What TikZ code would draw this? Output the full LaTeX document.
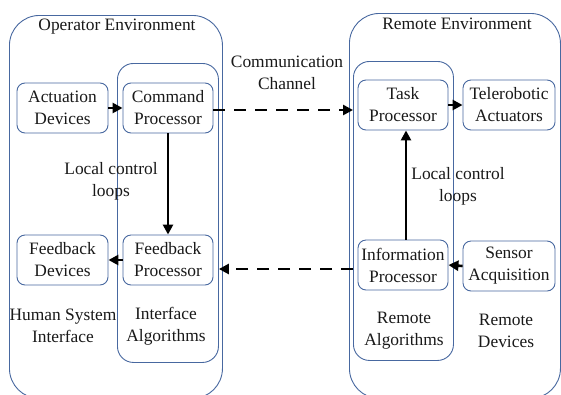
\documentclass[tikz,border=0pt]{standalone}
\usepackage{fontspec}
\setmainfont{Liberation Serif}
\usetikzlibrary{arrows.meta}
\definecolor{frameblue}{RGB}{72,104,160}
\tikzset{
  lbl/.style={font=\fontsize{17.4}{22}\selectfont, align=center, inner sep=0pt, text=black!90},
  devbox/.style={draw=frameblue, line width=0.9pt, rounded corners=8pt,
    minimum width=91pt, minimum height=50pt, inner sep=0pt, lbl},
  container/.style={draw=frameblue, line width=0.9pt, anchor=north west, inner sep=0pt},
  solidarrow/.style={line width=2.6pt, -{Triangle[length=10pt,width=10pt]}},
  dasharrow/.style={line width=2.8pt, dash pattern=on 12pt off 9pt, -{Triangle[length=10pt,width=10pt]}}
}
\begin{document}
\begin{tikzpicture}[x=1pt, y=-1pt]
\useasboundingbox (0,0) rectangle (561,394);
\clip (0,0) rectangle (561,394);
\fill[white] (0,0) rectangle (561,394);

% environments and algorithm groups
\node[container, rounded corners=30pt, minimum width=213pt, minimum height=383pt] (openv) at (9,15) {};
\node[container, rounded corners=16pt, minimum width=101pt, minimum height=299pt] (ialg) at (117,63) {};
\node[container, rounded corners=30pt, minimum width=211pt, minimum height=385pt] (renv) at (349,13) {};
\node[container, rounded corners=16pt, minimum width=100pt, minimum height=299pt] (ralg) at (353,61) {};

% titles and group labels
\node[lbl] (optitle) at (117,27) {Operator Environment};
\node[lbl] (retitle) at (457,24) {Remote Environment};
\node[lbl] (comm) at (287,73) {Communication\\Channel};
\node[lbl] (loopl) at (111,181) {Local control\\loops};
\node[lbl] (loopr) at (458,186) {Local control\\loops};
\node[lbl] (hsi) at (63,326) {Human System\\Interface};
\node[lbl] (ialgl) at (166,326) {Interface\\Algorithms};
\node[lbl] (ralgl) at (404,331) {Remote\\Algorithms};
\node[lbl] (rdev) at (506,331) {Remote\\Devices};

% blocks
\node[devbox] (act) at (62.5,108) {Actuation\\Devices};
\node[devbox, minimum width=90pt] (cmd) at (168,108) {Command\\Processor};
\node[devbox] (fbd) at (62.5,260) {Feedback\\Devices};
\node[devbox, minimum width=90pt] (fbp) at (168,260) {Feedback\\Processor};
\node[devbox, minimum width=90pt] (task) at (403,105) {Task\\Processor};
\node[devbox, minimum width=92pt] (tele) at (509,105) {Telerobotic\\Actuators};
\node[devbox, minimum width=90pt] (info) at (403,265) {Information\\Processor};
\node[devbox, minimum width=92pt] (sens) at (509,266) {Sensor\\Acquisition};

% local connections
\draw[solidarrow] (act.east) -- (cmd.west);
\draw[solidarrow] (cmd.south) -- (fbp.north);
\draw[solidarrow] (fbp.west) -- (fbd.east);
\draw[solidarrow] (task.east) -- (tele.west);
\draw[solidarrow] ([xshift=3pt]info.north) -- ([xshift=3pt]task.south);
\draw[solidarrow] (sens.west) -- (info.east);

% communication channel
\draw[dasharrow] ([yshift=-2pt]cmd.east) -- ([yshift=-2pt]cmd.east -| ralg.west);
\draw[dasharrow] ([yshift=-4pt]info.west -| ralg.west) -- ([yshift=-4pt]info.west -| ialg.east);
\end{tikzpicture}
\end{document}
